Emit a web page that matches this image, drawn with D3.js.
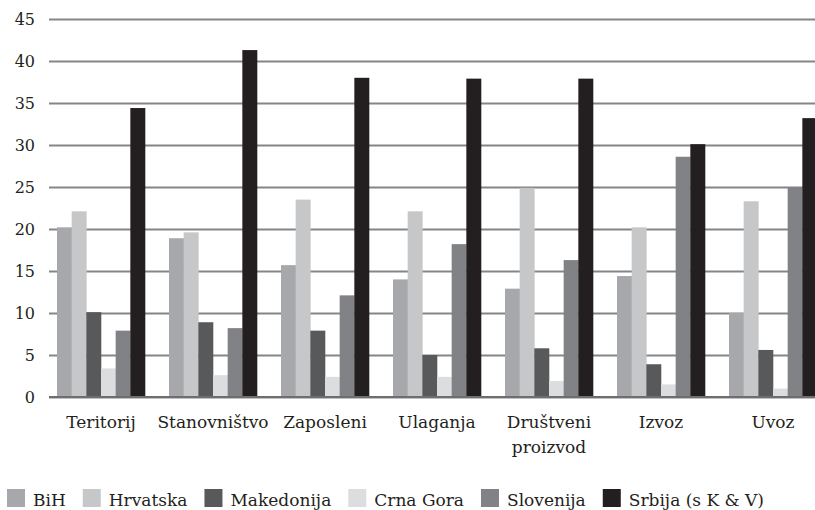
<!DOCTYPE html>
<html>
<head>
<meta charset="utf-8">
<script src="https://cdn.jsdelivr.net/npm/d3@7"></script>
<style>
  html, body { margin: 0; padding: 0; background: #fff; }
  svg { display: block; }
  text { font-family: "DejaVu Serif", "Liberation Serif", serif; fill: #231f20; }
</style>
</head>
<body>
<svg id="chart" width="815" height="510"></svg>
<script>
// Shares (%) of the former Yugoslav republics by indicator
const categories = ["Teritorij", "Stanovništvo", "Zaposleni", "Ulaganja", "Društveni proizvod", "Izvoz", "Uvoz"];
const seriesNames = ["BiH", "Hrvatska", "Makedonija", "Crna Gora", "Slovenija", "Srbija (s K & V)"];
const bih        = [20.2, 18.9, 15.7, 14.0, 12.9, 14.4, 10.0];
const hrvatska   = [22.1, 19.6, 23.5, 22.1, 24.9, 20.2, 23.3];
const makedonija = [10.1,  8.9,  7.9,  5.0,  5.8,  3.9,  5.6];
const crnaGora   = [ 3.4,  2.6,  2.4,  2.4,  1.9,  1.5,  1.0];
const slovenija  = [ 7.9,  8.2, 12.1, 18.2, 16.3, 28.6, 25.0];
const srbija     = [34.4, 41.3, 38.0, 37.9, 37.9, 30.1, 33.2];
const yTicks = [0, 5, 10, 15, 20, 25, 30, 35, 40, 45];

const seriesValues = [bih, hrvatska, makedonija, crnaGora, slovenija, srbija];
const colors = ["#a7a8ab", "#c6c7c9", "#58595b", "#dcdddf", "#808285", "#231f20"];

const svg = d3.select("#chart");

const x0 = d3.scaleBand()
  .domain(categories)
  .range([45, 829])
  .paddingInner(24 / 112)
  .paddingOuter(12 / 112);

const x1 = d3.scaleBand()
  .domain(seriesNames)
  .range([0, x0.bandwidth()]);

const y = d3.scaleLinear().domain([0, 45]).range([397, 19]);

// Horizontal gridlines with the value labels on the left
const yAxis = d3.axisLeft(y)
  .tickValues(yTicks)
  .tickSize(-(829 - 49))
  .tickPadding(14)
  .tickFormat(d3.format("d"));

const gAxis = svg.append("g")
  .attr("transform", "translate(49,0)")
  .call(yAxis);
gAxis.select(".domain").remove();
gAxis.selectAll(".tick line")
  .attr("stroke", "#858585")
  .attr("stroke-width", 1.8);
gAxis.selectAll(".tick text")
  .attr("font-size", 16)
  .attr("font-family", "DejaVu Serif, serif")
  .style("fill", "#231f20");

// Bars
const groups = svg.append("g")
  .selectAll("g")
  .data(categories)
  .join("g")
  .attr("transform", d => `translate(${x0(d)},0)`);

groups.selectAll("rect")
  .data((c, ci) => seriesNames.map((s, si) => ({ s, si, v: seriesValues[si][ci] })))
  .join("rect")
  .attr("x", d => x1(d.s))
  .attr("width", x1.bandwidth() + 0.3)
  .attr("y", d => y(d.v))
  .attr("height", d => y(0) - y(d.v))
  .attr("fill", d => colors[d.si]);

// Baseline
svg.append("line")
  .attr("x1", 49).attr("x2", 829)
  .attr("y1", y(0)).attr("y2", y(0))
  .attr("stroke", "#6e6e6e")
  .attr("stroke-width", 1.8);

// Category labels (wrapped to fit the band)
const catLabels = svg.append("g")
  .selectAll("text")
  .data(categories)
  .join("text")
  .attr("x", d => x0(d) + x0.bandwidth() / 2)
  .attr("y", 428)
  .attr("text-anchor", "middle")
  .attr("font-size", 17);

catLabels.each(function (d) {
  const words = d.split(" ");
  const t = d3.select(this);
  words.forEach((w, i) => {
    t.append("tspan")
      .attr("x", x0(d) + x0.bandwidth() / 2)
      .attr("dy", i === 0 ? 0 : 25)
      .text(w);
  });
});

// Legend
const legend = svg.append("g").attr("transform", "translate(7,0)");
let lx = 0;
seriesNames.forEach((name, i) => {
  const item = legend.append("g").attr("transform", `translate(${lx},0)`);
  item.append("rect")
    .attr("x", 0).attr("y", 489)
    .attr("width", 18).attr("height", 18)
    .attr("fill", colors[i]);
  const t = item.append("text")
    .attr("x", 26).attr("y", 506)
    .attr("font-size", 17)
    .text(name);
  lx += 26 + t.node().getComputedTextLength() + 17;
});
</script>
</body>
</html>
